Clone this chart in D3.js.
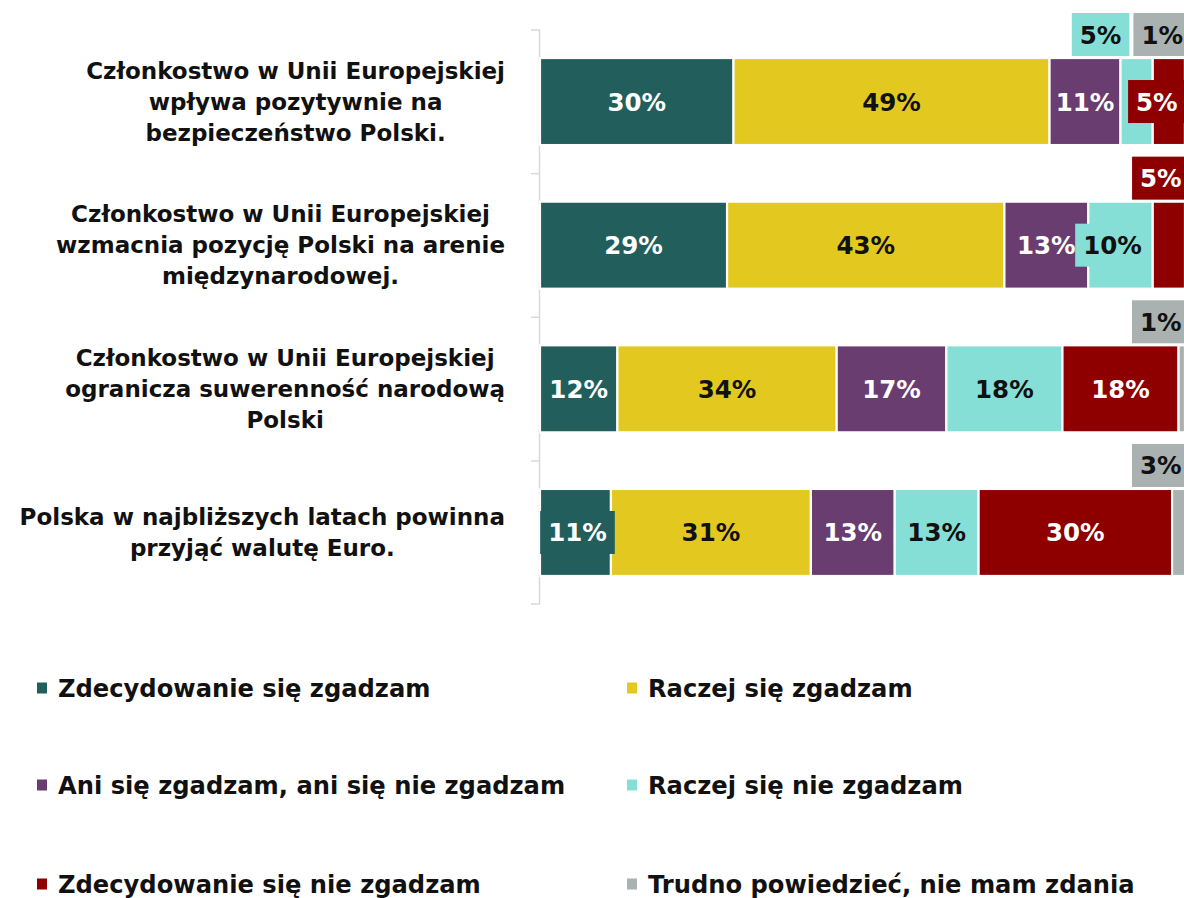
<!DOCTYPE html>
<html><head><meta charset="utf-8">
<script src="https://cdn.jsdelivr.net/npm/d3@7"></script>
<style>html,body{margin:0;padding:0;background:#fff;overflow:hidden}svg{display:block}</style>
</head><body>
<svg id="chart" width="1184" height="898"></svg>
<script>
const categoryLines = [
  ["Członkostwo w Unii Europejskiej", "wpływa pozytywnie na", "bezpieczeństwo Polski."],
  ["Członkostwo w Unii Europejskiej", "wzmacnia pozycję Polski na arenie", "międzynarodowej."],
  ["Członkostwo w Unii Europejskiej", "ogranicza suwerenność narodową", "Polski"],
  ["Polska w najbliższych latach powinna", "przyjąć walutę Euro."]
];
const seriesNames = [
  "Zdecydowanie się zgadzam",
  "Raczej się zgadzam",
  "Ani się zgadzam, ani się nie zgadzam",
  "Raczej się nie zgadzam",
  "Zdecydowanie się nie zgadzam",
  "Trudno powiedzieć, nie mam zdania"
];
const zdecydowanieTak = [30, 29, 12, 11];
const raczejTak       = [49, 43, 34, 31];
const aniTakAniNie    = [11, 13, 17, 13];
const raczejNie       = [5, 10, 18, 13];
const zdecydowanieNie = [5, 5, 18, 30];
const trudnoPowiedziec = [1, 0, 1, 3];
const seriesValues = [zdecydowanieTak, raczejTak, aniTakAniNie, raczejNie, zdecydowanieNie, trudnoPowiedziec];

const colors = ["#215e5c", "#e3c91f", "#6a3d70", "#86dfd6", "#8e0000", "#a9b1b1"];
const textColors = ["#ffffff", "#111111", "#ffffff", "#111111", "#ffffff", "#111111"];

// label call-out placement (PowerPoint-style boxed labels for narrow segments)
const callouts = [
  {row: 0, s: 3, dx: -36, above: true},
  {row: 0, s: 5, dx: -26, above: true},
  {row: 0, s: 4, dx: -12, above: false},
  {row: 1, s: 4, dx: -8, above: true},
  {row: 1, s: 3, dx: -8, above: false},
  {row: 2, s: 5, dx: -21, above: true},
  {row: 3, s: 5, dx: -21, above: true},
  {row: 3, s: 0, dx: 2, above: false}
];

const svg = d3.select("#chart");
const FONT = "'DejaVu Sans', sans-serif";
const rows = d3.range(categoryLines.length);

const x = d3.scaleLinear().domain([0, 100]).range([540, 1185]);
const y = d3.scaleBand().domain(rows).range([30, 604]).paddingInner(0.394).paddingOuter(0.195);

// stacked data
const table = rows.map(r => {
  const o = {row: r};
  seriesValues.forEach((arr, s) => o["s" + s] = arr[r]);
  return o;
});
const stack = d3.stack().keys(seriesValues.map((_, s) => "s" + s));
const layers = stack(table);

// axis line with ticks at band boundaries
const axisG = svg.append("g");
axisG.append("line").attr("x1", x(0) - 0.5).attr("x2", x(0) - 0.5)
  .attr("y1", y.range()[0]).attr("y2", y.range()[1])
  .attr("stroke", "#d9d9d9").attr("stroke-width", 1.5);
d3.range(rows.length + 1).forEach(i => {
  const yy = Math.min(y.range()[0] + i * y.step(), y.range()[1]);
  axisG.append("line").attr("x1", x(0) - 9).attr("x2", x(0))
    .attr("y1", yy).attr("y2", yy)
    .attr("stroke", "#d9d9d9").attr("stroke-width", 1.5);
});

// bars
layers.forEach((layer, s) => {
  svg.append("g").selectAll("rect").data(layer).join("rect")
    .attr("x", d => x(d[0]))
    .attr("y", d => y(d.data.row))
    .attr("width", d => Math.max(0, x(d[1]) - x(d[0])))
    .attr("height", y.bandwidth())
    .attr("fill", colors[s])
    .attr("stroke", "#fff").attr("stroke-width", 2.2);
});

// data labels
const labelG = svg.append("g");
const LBL_SIZE = 24.5;
layers.forEach((layer, s) => {
  layer.forEach(d => {
    const v = d[1] - d[0];
    if (v <= 0) return;
    const r = d.data.row;
    const co = callouts.find(c => c.row === r && c.s === s);
    let cx = (x(d[0]) + x(d[1])) / 2;
    let cy = y(r) + y.bandwidth() / 2;
    const t = labelG.append("text").text(v + "%")
      .attr("font-family", FONT).attr("font-weight", "bold")
      .attr("font-size", LBL_SIZE).attr("fill", textColors[s])
      .attr("text-anchor", "middle");
    if (co) {
      cx += co.dx;
      if (co.above) cy = y(r) - 2 - 21.5;
      const w = t.node().getComputedTextLength() + 16;
      labelG.insert("rect", () => t.node())
        .attr("x", cx - w / 2).attr("y", cy - 21.5)
        .attr("width", w).attr("height", 43)
        .attr("fill", colors[s]);
    }
    t.attr("x", cx).attr("y", cy + 9);
  });
});

// category labels: block right-aligned at 505, lines centered in block
const catG = svg.append("g");
const CAT_SIZE = 23, LINE_H = 31;
rows.forEach(r => {
  const lines = categoryLines[r];
  const g = catG.append("g");
  const texts = lines.map(l => g.append("text").text(l)
    .attr("font-family", FONT).attr("font-weight", "bold")
    .attr("font-size", CAT_SIZE).attr("fill", "#111").attr("text-anchor", "middle"));
  const maxW = d3.max(texts, t => t.node().getComputedTextLength());
  const center = 505 - maxW / 2;
  const cy = y(r) + y.bandwidth() / 2;
  const y0 = cy - (lines.length - 1) * LINE_H / 2;
  texts.forEach((t, i) => t.attr("x", center).attr("y", y0 + i * LINE_H + 8));
});

// legend
const legG = svg.append("g");
const legCols = [37, 627], legRows = [688, 785, 884];
seriesNames.forEach((name, s) => {
  const lx = legCols[s % 2], ly = legRows[Math.floor(s / 2)];
  legG.append("rect").attr("x", lx).attr("y", ly - 5.5).attr("width", 10).attr("height", 11).attr("fill", colors[s]);
  legG.append("text").text(name).attr("x", lx + 21).attr("y", ly + 8.5)
    .attr("font-family", FONT).attr("font-weight", "bold").attr("font-size", 24.2).attr("fill", "#111");
});
</script>
</body></html>
